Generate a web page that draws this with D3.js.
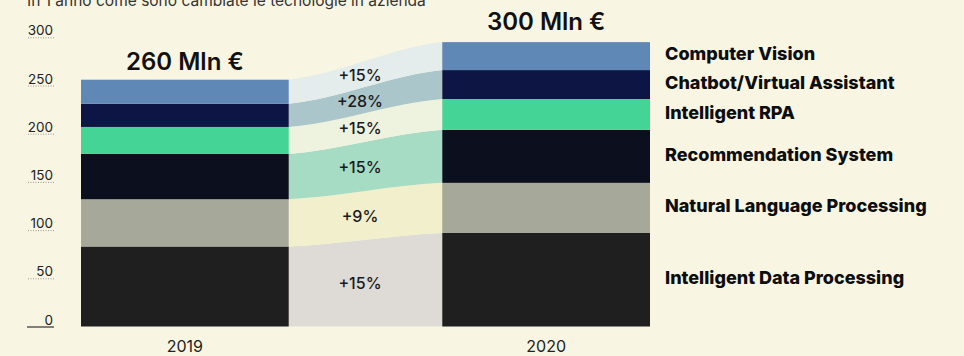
<!DOCTYPE html>
<html lang="it">
<head>
  <meta charset="UTF-8">
  <title>Tecnologie AI in azienda 2019-2020</title>
  <script src="https://d3js.org/d3.v7.min.js"></script>
  <style>
    html, body { margin: 0; padding: 0; background: #f8f6e2; }
    svg { display: block; font-family: Inter, "Open Sans", sans-serif; }
    .tick-label { font-size: 13.5px; fill: #222; }
    .pct { font-size: 16px; font-weight: 500; fill: #1a1a1a; }
    .cat { font-size: 18px; font-weight: 800; fill: #0d0d0d; }
    .total { font-size: 24px; font-weight: 600; fill: #111; }
    .year { font-size: 16px; fill: #222; }
  </style>
</head>
<body>
  <svg id="chart"></svg>
  <script>
    // dati (Mln €), dal basso verso l'alto
    const categories = [
      "Intelligent Data Processing",
      "Natural Language Processing",
      "Recommendation System",
      "Intelligent RPA",
      "Chatbot/Virtual Assistant",
      "Computer Vision"
    ];
    const years = ["2019", "2020"];
    const values2019 = [83, 49, 47, 28, 24, 25];
    const values2020 = [97, 52, 55, 32, 30, 29];
    const growth = ["+15%", "+9%", "+15%", "+15%", "+28%", "+15%"];
    const totals = ["260 Mln €", "300 Mln €"];
    const tickValues = [0, 50, 100, 150, 200, 250, 300];

    const barColors = ["#1f1f1f", "#a6a89a", "#0b0f1e", "#44d596", "#0d1544", "#6088b6"];
    const flowColors = ["#dedad6", "#f2f0cc", "#a6dcc4", "#eef3e0", "#aac6cb", "#e4edeb"];

    const width = 964, height = 356;
    const svg = d3.select("#chart").attr("width", width).attr("height", height);

    svg.append("rect").attr("width", width).attr("height", height).attr("fill", "#f8f6e2");

    const y = d3.scaleLinear().domain([0, 300]).range([326.5, 37.3]);
    const x = d3.scaleBand().domain(years).range([81, 650]).paddingInner(0.425).paddingOuter(0);

    // stack cumulativo
    function stack(vals) {
      let acc = 0;
      return vals.map(v => { const s = { y0: acc, y1: acc + v }; acc += v; return s; });
    }
    const s19 = stack(values2019);
    const s20 = stack(values2020);

    // titolo (tagliato in alto come nell'originale)
    svg.append("text")
      .attr("x", 27).attr("y", 6)
      .attr("font-size", 15.5).attr("fill", "#333")
      .text("In 1 anno come sono cambiate le tecnologie in azienda");

    // flussi
    const xl = x("2019") + x.bandwidth();
    const xr = x("2020");
    const dx = xr - xl;
    const flows = categories.map((c, i) => {
      const a0 = y(s19[i].y0), a1 = y(s19[i].y1);
      const b0 = y(s20[i].y0), b1 = y(s20[i].y1);
      const p = d3.path();
      p.moveTo(xl, a1);
      p.bezierCurveTo(xl + dx / 3, a1 + (b1 - a1) * 0.15, xr - dx / 3, b1 - (b1 - a1) * 0.15, xr, b1);
      p.lineTo(xr, b0);
      p.bezierCurveTo(xr - dx / 3, b0 + (a0 - b0) * 0.15, xl + dx / 3, a0 - (a0 - b0) * 0.15, xl, a0);
      p.closePath();
      return { path: p.toString(), i, mid: ((a0 + a1) / 2) * 0.54 + ((b0 + b1) / 2) * 0.46 };
    });

    svg.append("g").selectAll("path")
      .data(flows)
      .join("path")
      .attr("d", d => d.path)
      .attr("fill", d => flowColors[d.i]);

    svg.append("g").selectAll("text")
      .data(flows)
      .join("text")
      .attr("class", "pct")
      .attr("x", 360)
      .attr("y", d => d.mid)
      .attr("dy", "0.35em")
      .attr("text-anchor", "middle")
      .text(d => growth[d.i]);

    // barre
    [s19, s20].forEach((st, k) => {
      svg.append("g").selectAll("rect")
        .data(st)
        .join("rect")
        .attr("x", x(years[k]))
        .attr("width", x.bandwidth())
        .attr("y", d => y(d.y1))
        .attr("height", d => y(d.y0) - y(d.y1))
        .attr("fill", (d, i) => barColors[i]);

      svg.append("text")
        .attr("class", "total")
        .attr("x", x(years[k]) + x.bandwidth() / 2)
        .attr("y", k === 0 ? 70 : 30)
        .attr("text-anchor", "middle")
        .text(totals[k]);

      svg.append("text")
        .attr("class", "year")
        .attr("x", x(years[k]) + x.bandwidth() / 2)
        .attr("y", 352)
        .attr("text-anchor", "middle")
        .text(years[k]);
    });

    // etichette categorie a destra
    svg.append("g").selectAll("text")
      .data(s20)
      .join("text")
      .attr("class", "cat")
      .attr("x", 665)
      .attr("y", d => y((d.y0 + d.y1) / 2) - 2)
      .attr("dy", "0.35em")
      .text((d, i) => categories[i]);

    // asse y: etichette sottolineate
    const axis = svg.append("g");
    axis.selectAll("line")
      .data(tickValues)
      .join("line")
      .attr("x1", d => d === 0 ? 27 : 28)
      .attr("x2", 54)
      .attr("y1", d => y(d) + 0.5)
      .attr("y2", d => y(d) + 0.5)
      .attr("stroke", d => d === 0 ? "#333" : "#999")
      .attr("stroke-width", d => d === 0 ? 1.2 : 1)
      .attr("stroke-dasharray", d => d === 0 ? null : "1,1.5");
    axis.selectAll("text")
      .data(tickValues)
      .join("text")
      .attr("class", "tick-label")
      .attr("x", 53)
      .attr("y", d => y(d) - 2)
      .attr("text-anchor", "end")
      .text(d => d);
  </script>
</body>
</html>
